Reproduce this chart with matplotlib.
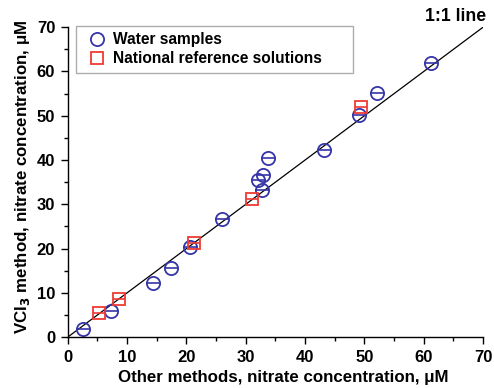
import matplotlib
matplotlib.use("Agg")
import matplotlib.pyplot as plt
from matplotlib.lines import Line2D

water_x = [2.6, 7.3, 14.4, 17.4, 20.6, 26.0, 32.7, 32.0, 32.9, 33.8, 43.2, 49.1, 52.2, 61.2]
water_y = [1.8, 5.9, 12.3, 15.7, 20.4, 26.6, 33.2, 35.4, 36.6, 40.5, 42.3, 50.1, 55.2, 62.0]
ref_x = [5.3, 8.7, 21.3, 31.0, 49.5]
ref_y = [5.4, 8.6, 21.3, 31.2, 51.9]
line_x = [0, 70]
line_y = [0, 70]
ticks = [0, 10, 20, 30, 40, 50, 60, 70]
minor_ticks = [5, 15, 25, 35, 45, 55, 65]

plt.rcParams['font.family'] = ['Liberation Sans', 'DejaVu Sans']
plt.rcParams['font.weight'] = 'bold'
plt.rcParams['mathtext.default'] = 'bf'

blue = '#3535A8'
red = '#EE3A33'

fig = plt.figure(figsize=(4.94, 3.88), dpi=100)
ax = fig.add_axes([0.137, 0.131, 0.841, 0.799])

ax.plot(line_x, line_y, color='black', lw=0.9, zorder=1)
ax.plot(water_x, water_y, 'o', ms=9.5, mfc='none', mec=blue, mew=1.3, ls='none', zorder=2)
ax.plot(water_x, water_y, '_', ms=9.5, mec=blue, mew=1.2, ls='none', zorder=2)
ax.plot(ref_x, ref_y, 's', ms=8.5, mfc='none', mec=red, mew=1.3, ls='none', zorder=3)
ax.plot(ref_x, ref_y, '_', ms=8.5, mec=red, mew=1.2, ls='none', zorder=3)

ax.set_xlim(0, 70)
ax.set_ylim(0, 70)
ax.set_xticks(ticks)
ax.set_yticks(ticks)
ax.set_xticklabels([str(t) for t in ticks], fontweight='bold', fontsize=12)
ax.set_yticklabels([str(t) for t in ticks], fontweight='bold', fontsize=12)
ax.set_xticks(minor_ticks, minor=True)
ax.set_yticks(minor_ticks, minor=True)
ax.tick_params(axis='both', which='major', direction='out', length=5, width=1, pad=4)
ax.tick_params(axis='both', which='minor', direction='out', length=3, width=1)
ax.spines['top'].set_visible(False)
ax.spines['right'].set_visible(False)
ax.spines['left'].set_linewidth(1)
ax.spines['bottom'].set_linewidth(1)

ax.set_xlabel('Other methods, nitrate concentration, μM', fontsize=12.2, fontweight='bold', labelpad=3)
ax.xaxis.set_label_coords(0.518, -0.105)
ax.set_ylabel('VCl$_3$ method, nitrate concentration, μM', fontsize=12.2, fontweight='bold', labelpad=2)
ax.yaxis.set_label_coords(-0.085, 0.516)

ax.text(70.5, 72.3, '1:1 line', ha='right', va='center', fontsize=12.7, fontweight='bold', clip_on=False)

handles = [
    Line2D([], [], marker='o', ls='none', ms=9.5, mfc='none', mec=blue, mew=1.3),
    Line2D([], [], marker='s', ls='none', ms=8.5, mfc='none', mec=red, mew=1.3),
]
leg = ax.legend(handles, ['Water samples', 'National reference solutions'],
                loc='upper left', bbox_to_anchor=(0.02, 0.85, 0.667, 0.153), mode='expand',
                borderaxespad=0,
                fontsize=11.2, frameon=True, fancybox=False, edgecolor='#999999',
                handletextpad=0.1, borderpad=0.4, labelspacing=0.25, handlelength=1.9)
leg.get_frame().set_linewidth(1)
for t in leg.get_texts():
    t.set_fontweight('bold')

fig.savefig('out.png', dpi=100)
